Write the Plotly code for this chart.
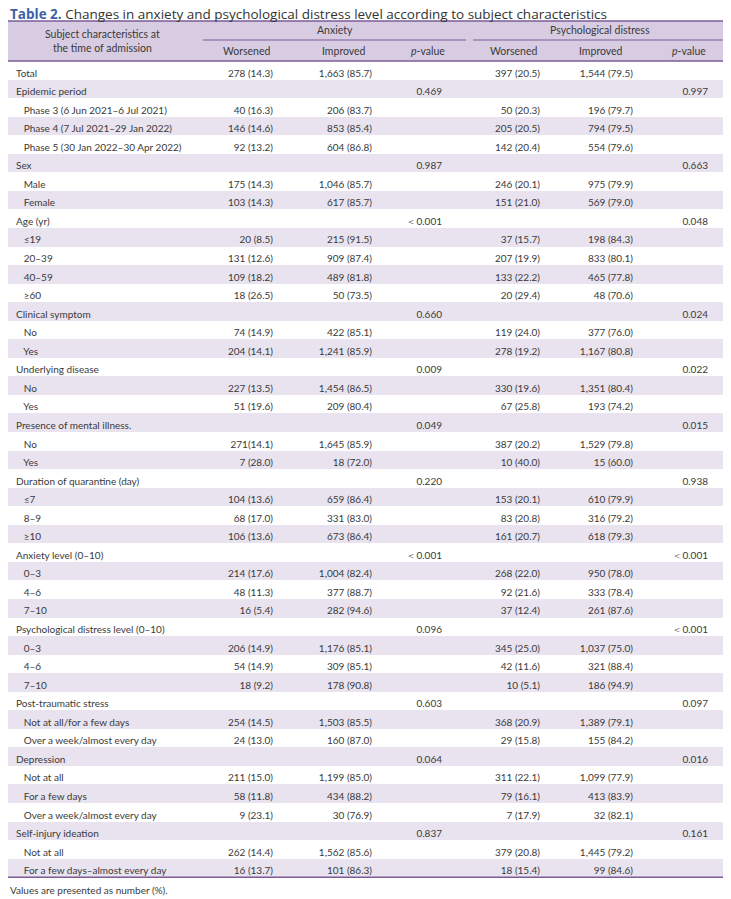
import plotly.graph_objects as go

# ---------------- data ----------------
labels = [
    "Total",
    "Epidemic period", "Phase 3", "Phase 4", "Phase 5",
    "Sex", "Male", "Female",
    "Age", "≤19", "20–39", "40–59", "≥60",
    "Clinical symptom", "No", "Yes",
    "Underlying disease", "No", "Yes",
    "Presence of mental illness.", "No", "Yes",
    "Duration of quarantine", "≤7", "8–9", "≥10",
    "Anxiety level", "0–3", "4–6", "7–10",
    "Psychological distress level", "0–3", "4–6", "7–10",
    "Post-traumatic stress", "Not at all/for a few days", "Over a week/almost every day",
    "Depression", "Not at all", "For a few days", "Over a week/almost every day",
    "Self-injury ideation", "Not at all", "For a few days–almost every day",
]
label_notes = {
    "Phase 3": "(6 Jun 2021–6 Jul 2021)",
    "Phase 4": "(7 Jul 2021–29 Jan 2022)",
    "Phase 5": "(30 Jan 2022–30 Apr 2022)",
    "Age": "(yr)",
    "Duration of quarantine": "(day)",
    "Anxiety level": "(0–10)",
    "Psychological distress level": "(0–10)",
}
levels = [0,
          0, 1, 1, 1,
          0, 1, 1,
          0, 1, 1, 1, 1,
          0, 1, 1,
          0, 1, 1,
          0, 1, 1,
          0, 1, 1, 1,
          0, 1, 1, 1,
          0, 1, 1, 1,
          0, 1, 1,
          0, 1, 1, 1,
          0, 1, 1]

anx_worsened = [
    "278 (14.3)", "", "40 (16.3)", "146 (14.6)", "92 (13.2)", "", "175 (14.3)", "103 (14.3)",
    "", "20 (8.5)", "131 (12.6)", "109 (18.2)", "18 (26.5)", "", "74 (14.9)", "204 (14.1)",
    "", "227 (13.5)", "51 (19.6)", "", "271(14.1)", "7 (28.0)", "", "104 (13.6)", "68 (17.0)",
    "106 (13.6)", "", "214 (17.6)", "48 (11.3)", "16 (5.4)", "", "206 (14.9)", "54 (14.9)",
    "18 (9.2)", "", "254 (14.5)", "24 (13.0)", "", "211 (15.0)", "58 (11.8)", "9 (23.1)",
    "", "262 (14.4)", "16 (13.7)",
]
anx_improved = [
    "1,663 (85.7)", "", "206 (83.7)", "853 (85.4)", "604 (86.8)", "", "1,046 (85.7)", "617 (85.7)",
    "", "215 (91.5)", "909 (87.4)", "489 (81.8)", "50 (73.5)", "", "422 (85.1)", "1,241 (85.9)",
    "", "1,454 (86.5)", "209 (80.4)", "", "1,645 (85.9)", "18 (72.0)", "", "659 (86.4)", "331 (83.0)",
    "673 (86.4)", "", "1,004 (82.4)", "377 (88.7)", "282 (94.6)", "", "1,176 (85.1)", "309 (85.1)",
    "178 (90.8)", "", "1,503 (85.5)", "160 (87.0)", "", "1,199 (85.0)", "434 (88.2)", "30 (76.9)",
    "", "1,562 (85.6)", "101 (86.3)",
]
anx_p = [
    "", "0.469", "", "", "", "0.987", "", "", "<0.001", "", "", "", "", "0.660", "", "",
    "0.009", "", "", "0.049", "", "", "0.220", "", "", "", "<0.001", "", "", "", "0.096", "", "",
    "", "0.603", "", "", "0.064", "", "", "", "0.837", "", "",
]
psy_worsened = [
    "397 (20.5)", "", "50 (20.3)", "205 (20.5)", "142 (20.4)", "", "246 (20.1)", "151 (21.0)",
    "", "37 (15.7)", "207 (19.9)", "133 (22.2)", "20 (29.4)", "", "119 (24.0)", "278 (19.2)",
    "", "330 (19.6)", "67 (25.8)", "", "387 (20.2)", "10 (40.0)", "", "153 (20.1)", "83 (20.8)",
    "161 (20.7)", "", "268 (22.0)", "92 (21.6)", "37 (12.4)", "", "345 (25.0)", "42 (11.6)",
    "10 (5.1)", "", "368 (20.9)", "29 (15.8)", "", "311 (22.1)", "79 (16.1)", "7 (17.9)",
    "", "379 (20.8)", "18 (15.4)",
]
psy_improved = [
    "1,544 (79.5)", "", "196 (79.7)", "794 (79.5)", "554 (79.6)", "", "975 (79.9)", "569 (79.0)",
    "", "198 (84.3)", "833 (80.1)", "465 (77.8)", "48 (70.6)", "", "377 (76.0)", "1,167 (80.8)",
    "", "1,351 (80.4)", "193 (74.2)", "", "1,529 (79.8)", "15 (60.0)", "", "610 (79.9)", "316 (79.2)",
    "618 (79.3)", "", "950 (78.0)", "333 (78.4)", "261 (87.6)", "", "1,037 (75.0)", "321 (88.4)",
    "186 (94.9)", "", "1,389 (79.1)", "155 (84.2)", "", "1,099 (77.9)", "413 (83.9)", "32 (82.1)",
    "", "1,445 (79.2)", "99 (84.6)",
]
psy_p = [
    "", "0.997", "", "", "", "0.663", "", "", "0.048", "", "", "", "", "0.024", "", "",
    "0.022", "", "", "0.015", "", "", "0.938", "", "", "", "<0.001", "", "", "", "<0.001", "", "",
    "", "0.097", "", "", "0.016", "", "", "", "0.161", "", "",
]

header_left = ["Subject characteristics at", "the time of admission"]
group_titles = ["Anxiety", "Psychological distress"]
sub_headers = ["Worsened", "Improved", "<i>p</i>-value"]
title_bold = "Table 2."
title_rest = "Changes in anxiety and psychological distress level according to subject characteristics"
footnote = "Values are presented as number (%)."

# ---------------- styling ----------------
FONT = "Lato"
TITLE_FONT = "Open Sans"
TXT = "#3a3a3a"
HEAD_FILL = "#d8cce2"
STRIPE = "#e9e3f0"
LINE = "#7d5c98"
NB = "\u00a0"

# the page body adds an 8px offset; layout positions below are in screen pixels
OFF = 8
W, H = 731 - OFF, 899 - OFF
TABLE_TOP, HEADER_H, ROW_H = 21, 40, 18.55
ML, MR = 0, 4
MT = TABLE_TOP - OFF
MB = 21
PW, PH = W - ML - MR, H - MT - MB

col_w = [192, 81, 99, 70, 98, 93, 75, 11]


def px_x(x):
    return (x - OFF - ML) / PW


def px_y(y):
    return 1 - (y - OFF - MT) / PH


def make_label(text, level):
    s = text
    if text in label_notes:
        s += " " + label_notes[text]
    return (NB * 3 if level == 1 else "") + s


def p_cells(values):
    # plotly tables grow any row whose text holds "<" (treated as markup), so the
    # less-than sign is shown with its full-width form to keep rows even
    return [v.replace("<", "\uff1c") for v in values]


n = len(labels)
lab_cells = [make_label(t, lv) for t, lv in zip(labels, levels)]
blank = [""] * n
fills = ["#ffffff" if i % 2 == 0 else STRIPE for i in range(n)]

fig = go.Figure(go.Table(
    columnwidth=col_w,
    domain=dict(x=[0, 1], y=[0, 1]),
    header=dict(
        values=[" "] * 8,
        fill_color=HEAD_FILL,
        line=dict(width=0, color=HEAD_FILL),
        font=dict(family=FONT, size=10.5, color=TXT),
        height=HEADER_H,
    ),
    cells=dict(
        values=[lab_cells, anx_worsened, anx_improved, p_cells(anx_p),
                psy_worsened, psy_improved, p_cells(psy_p), blank],
        fill_color=[fills] * 8,
        line=dict(width=0, color=[fills] * 8),
        align=["left"] + ["right"] * 7,
        font=dict(family=FONT, size=10, color=TXT),
        height=ROW_H,
    ),
))

shapes = []
annotations = []
hfont = dict(family=FONT, size=10.5, color=TXT)

# left header (two lines)
for txt, yy in zip(header_left, [34, 48]):
    annotations.append(dict(text=txt, xref="paper", yref="paper", x=px_x(102), y=px_y(yy),
                            xanchor="center", yanchor="middle", showarrow=False, font=hfont))

# group titles with rules
groups = [(203, 466), (473, 727)]
for (x0, x1), g in zip(groups, group_titles):
    shapes.append(dict(type="line", xref="paper", yref="paper", x0=px_x(x0), x1=px_x(x1),
                       y0=px_y(40), y1=px_y(40), line=dict(color=LINE, width=1.2)))
    annotations.append(dict(text=g, xref="paper", yref="paper", x=px_x((x0 + x1) / 2),
                            y=px_y(30.5), xanchor="center", yanchor="middle", showarrow=False,
                            font=hfont))

# sub headers, right aligned
sub_right = [273, 368, 447, 540, 625, 708]
for i, xr in enumerate(sub_right):
    annotations.append(dict(text=sub_headers[i % 3], xref="paper", yref="paper", x=px_x(xr),
                            y=px_y(51), xanchor="right", yanchor="middle", showarrow=False,
                            font=hfont))

table_bottom = TABLE_TOP + HEADER_H + ROW_H * n
for yy in [TABLE_TOP, TABLE_TOP + HEADER_H, table_bottom]:
    shapes.append(dict(type="line", xref="paper", yref="paper", x0=0, x1=1,
                       y0=px_y(yy), y1=px_y(yy), line=dict(color=LINE, width=1.5)))

annotations.append(dict(
    text=f"<b><span style='color:#3d5fa8'>{title_bold}</span></b> {title_rest}",
    xref="paper", yref="paper", x=px_x(OFF), y=px_y(14), xanchor="left", yanchor="middle",
    showarrow=False, font=dict(family=TITLE_FONT, size=13.5, color="#333333")))
annotations.append(dict(
    text=footnote, xref="paper", yref="paper", x=px_x(OFF), y=px_y(890), xanchor="left",
    yanchor="middle", showarrow=False, font=dict(family=FONT, size=10, color=TXT)))

fig.update_layout(
    width=W, height=H,
    margin=dict(l=ML, r=MR, t=MT, b=MB, pad=0),
    paper_bgcolor="white",
    shapes=shapes,
    annotations=annotations,
)

fig.write_html("out.html")
